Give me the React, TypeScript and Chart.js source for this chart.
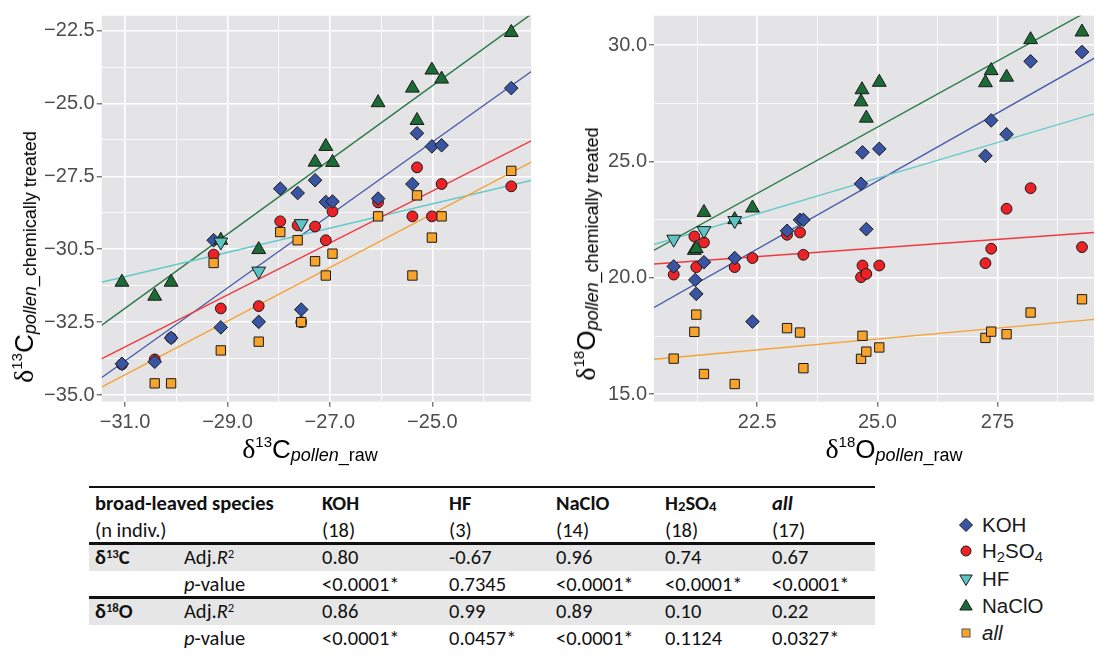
import React, { useEffect, useRef } from 'react';
import { Chart, registerables } from 'chart.js';

Chart.register(...registerables);

// ---------- δ13C panel (x: raw, y: chemically treated) ----------
const carbonKOH: [number, number][] = [
  [-31.06, -33.93], [-30.42, -33.86], [-30.1, -33.04], [-29.27, -29.69], [-29.13, -32.68], [-28.39, -32.49],
  [-27.97, -27.92], [-27.63, -28.07], [-27.56, -32.07], [-27.29, -27.63], [-27.08, -28.38], [-26.95, -28.36],
  [-26.06, -28.26], [-25.39, -27.76], [-25.3, -26.02], [-25.01, -26.47], [-24.82, -26.43], [-23.46, -24.47],
];
const carbonH2SO4: [number, number][] = [
  [-31.06, -33.95], [-30.42, -33.78], [-30.1, -33.04], [-29.27, -30.18], [-29.13, -32.03], [-28.39, -31.95],
  [-27.97, -29.04], [-27.63, -29.18], [-27.56, -32.5], [-27.29, -29.22], [-27.08, -29.69], [-26.95, -28.7],
  [-26.06, -28.39], [-25.39, -28.87], [-25.3, -27.19], [-25.01, -28.87], [-24.82, -27.76], [-23.46, -27.84],
];
const carbonHF: [number, number][] = [[-29.13, -29.75], [-28.39, -30.75], [-27.56, -29.12]];
const carbonNaClO: [number, number][] = [
  [-31.06, -31.13], [-30.42, -31.61], [-30.1, -31.13], [-29.13, -29.69], [-28.39, -30.01], [-27.29, -27.01],
  [-27.08, -26.47], [-26.95, -27.02], [-26.06, -24.97], [-25.39, -24.47], [-25.3, -25.58], [-25.01, -23.85],
  [-24.82, -24.16], [-23.46, -22.56],
];
const carbonAll: [number, number][] = [
  [-30.42, -34.6], [-30.1, -34.6], [-29.27, -30.47], [-29.13, -33.47], [-28.39, -33.17], [-27.97, -29.41],
  [-27.63, -29.69], [-27.56, -32.5], [-27.29, -30.41], [-27.08, -30.9], [-26.95, -30.15], [-26.06, -28.87],
  [-25.39, -30.9], [-25.3, -28.15], [-25.01, -29.6], [-24.82, -28.87], [-23.46, -27.31],
];
// fitted regression lines (values at the panel edges)
const carbonFitKOH: [number, number][] = [[-31.46, -34.41], [-23.07, -23.9]];
const carbonFitH2SO4: [number, number][] = [[-31.46, -33.76], [-23.07, -26.28]];
const carbonFitHF: [number, number][] = [[-31.46, -31.13], [-23.07, -27.64]];
const carbonFitNaClO: [number, number][] = [[-31.46, -32.61], [-23.07, -21.93]];
const carbonFitAll: [number, number][] = [[-31.46, -34.73], [-23.07, -27.01]];

const carbonXMajor = [-31, -29, -27, -25];
const carbonXMinor = [-30, -28, -26, -24];
const carbonXLabels = ['\u221231.0', '\u221229.0', '\u221227.0', '\u221225.0'];
const carbonYMajor = [-35, -32.5, -30, -27.5, -25, -22.5];
const carbonYMinor = [-33.75, -31.25, -28.75, -26.25, -23.75];
const carbonYLabels = ['\u221235.0', '\u221232.5', '\u221230.5', '\u221227.5', '\u221225.0', '\u221222.5'];

// ---------- δ18O panel ----------
const oxygenKOH: [number, number][] = [
  [20.76, 20.49], [21.21, 19.91], [21.23, 19.31], [21.39, 20.67], [22.03, 20.85], [22.4, 18.12],
  [23.12, 22.02], [23.39, 22.49], [23.46, 22.49], [24.66, 24.04], [24.69, 25.39], [24.77, 22.09],
  [25.04, 25.54], [27.25, 25.24], [27.37, 26.76], [27.69, 26.17], [28.19, 29.3], [29.26, 29.7],
];
const oxygenH2SO4: [number, number][] = [
  [20.76, 20.14], [21.19, 21.78], [21.23, 20.46], [21.39, 21.52], [22.03, 20.46], [22.4, 20.85],
  [23.12, 21.85], [23.39, 21.95], [23.46, 20.99], [24.66, 20.03], [24.69, 20.53], [24.77, 20.17],
  [25.04, 20.53], [27.25, 20.63], [27.37, 21.25], [27.69, 22.97], [28.19, 23.85], [29.26, 21.32],
];
const oxygenHF: [number, number][] = [[20.76, 21.66], [21.39, 22.03], [22.03, 22.46]];
const oxygenNaClO: [number, number][] = [
  [21.19, 21.18], [21.23, 21.26], [21.39, 22.81], [22.03, 22.5], [22.4, 23.0], [24.66, 27.56],
  [24.68, 28.08], [24.77, 26.86], [25.04, 28.4], [27.25, 28.38], [27.37, 28.9], [27.69, 28.62],
  [28.19, 30.23], [29.26, 30.56],
];
const oxygenAll: [number, number][] = [
  [20.76, 16.53], [21.19, 17.68], [21.23, 18.42], [21.39, 15.87], [22.03, 15.44], [23.12, 17.84],
  [23.39, 17.65], [23.46, 16.12], [24.66, 16.52], [24.69, 17.51], [24.77, 16.83], [25.04, 17.01],
  [27.25, 17.42], [27.37, 17.69], [27.69, 17.58], [28.19, 18.51], [29.26, 19.08],
];
const oxygenFitKOH: [number, number][] = [[20.33, 18.7], [29.52, 29.44]];
const oxygenFitH2SO4: [number, number][] = [[20.33, 20.59], [29.52, 21.95]];
const oxygenFitHF: [number, number][] = [[20.33, 21.42], [29.52, 27.05]];
const oxygenFitNaClO: [number, number][] = [[20.33, 21.16], [29.52, 31.61]];
const oxygenFitAll: [number, number][] = [[20.33, 16.5], [29.52, 18.22]];

const oxygenXMajor = [22.5, 25, 27.5];
const oxygenXMinor = [21.25, 23.75, 26.25, 28.75];
const oxygenXLabels = ['22.5', '25.0', '275'];
const oxygenYMajor = [15, 20, 25, 30];
const oxygenYMinor = [17.5, 22.5, 27.5];
const oxygenYLabels = ['15.0', '20.0', '25.0', '30.0'];

// ---------- table ----------
const tableTreatments = ['KOH', 'HF', 'NaClO', 'H2SO4', 'all'];
const tableN = ['(18)', '(3)', '(14)', '(18)', '(17)'];
const carbonAdjR2 = ['0.80', '-0.67', '0.96', '0.74', '0.67'];
const carbonP = ['<0.0001*', '0.7345', '<0.0001*', '<0.0001*', '<0.0001*'];
const oxygenAdjR2 = ['0.86', '0.99', '0.89', '0.10', '0.22'];
const oxygenP = ['<0.0001*', '0.0457*', '<0.0001*', '0.1124', '0.0327*'];

// ---------- styles ----------
const SANS = "'Liberation Sans', Arial, Helvetica, sans-serif";
const SERIF = "'Liberation Serif', 'DejaVu Serif', serif";
const TABLE_FONT = "Carlito, Lato, 'Open Sans', sans-serif";
const PANEL_BG = '#E4E4E6';
const TICK_COLOR = '#4D4D4D';
const EDGE = '#1A1A1A';

const COLORS = {
  KOH: { fill: '#3A54A4', line: '#4A5DAD' },
  H2SO4: { fill: '#EC2227', line: '#EE3A3F' },
  HF: { fill: '#5DC3C3', line: '#62C9C8' },
  NaClO: { fill: '#1C6B37', line: '#2C7B4A' },
  all: { fill: '#F8A32B', line: '#F6A234' },
};

type Series = { pts: [number, number][]; style: string; radius: number; rotation?: number; fill: string; order: number };
type Fit = { pts: [number, number][]; color: string };
type PanelSpec = {
  series: Series[];
  fits: Fit[];
  xMin: number; xMax: number; yMin: number; yMax: number;
  xMajor: number[]; xMinor: number[]; xLabels: string[];
  yMajor: number[]; yMinor: number[]; yLabels: string[];
  yAxisWidth: number; xAxisHeight: number; padTop: number; padRight: number;
};

const panelBackground = {
  id: 'panelBackground',
  beforeDraw(chart: any) {
    const { ctx, chartArea } = chart;
    ctx.save();
    ctx.fillStyle = PANEL_BG;
    ctx.fillRect(chartArea.left, chartArea.top, chartArea.right - chartArea.left, chartArea.bottom - chartArea.top);
    ctx.restore();
  },
};

function findIdx(list: number[], v: number) {
  return list.findIndex((m) => Math.abs(m - v) < 1e-6);
}

function axisOptions(major: number[], minor: number[], labels: string[], min: number, max: number, isX: boolean, size: number, padding: number) {
  return {
    type: 'linear',
    min,
    max,
    afterBuildTicks: (axis: any) => {
      axis.ticks = [...major, ...minor].sort((a, b) => a - b).map((v) => ({ value: v }));
    },
    afterFit: (axis: any) => {
      if (isX) axis.height = size;
      else axis.width = size;
    },
    border: { display: false },
    grid: {
      color: '#FFFFFF',
      lineWidth: (c: any) => (c.tick && findIdx(major, c.tick.value) >= 0 ? 1.6 : 0.8),
      drawTicks: true,
      tickLength: 5,
      tickWidth: 1.1,
      tickColor: (c: any) => (c.tick && findIdx(major, c.tick.value) >= 0 ? TICK_COLOR : 'rgba(0,0,0,0)'),
    },
    ticks: {
      autoSkip: false,
      maxRotation: 0,
      minRotation: 0,
      padding,
      color: TICK_COLOR,
      font: { family: SANS, size: 20 },
      callback: (value: any) => {
        const i = findIdx(major, Number(value));
        return i >= 0 ? labels[i] : '';
      },
    },
  };
}

function ScatterPanel({ left, top, width, height, spec }: { left: number; top: number; width: number; height: number; spec: PanelSpec }) {
  const ref = useRef<HTMLCanvasElement>(null);
  useEffect(() => {
    if (!ref.current) return;
    const datasets: any[] = [];
    spec.series.forEach((s) => {
      datasets.push({
        data: s.pts.map(([x, y]) => ({ x, y })),
        pointStyle: s.style,
        pointRadius: s.radius,
        pointRotation: s.rotation || 0,
        pointBackgroundColor: s.fill,
        pointBorderColor: EDGE,
        pointBorderWidth: 1,
        showLine: false,
        order: s.order,
      });
    });
    spec.fits.forEach((f) => {
      datasets.push({
        data: f.pts.map(([x, y]) => ({ x, y })),
        showLine: true,
        borderColor: f.color,
        borderWidth: 1.4,
        pointRadius: 0,
        fill: false,
        order: 20,
      });
    });
    const chart = new Chart(ref.current, {
      type: 'scatter',
      data: { datasets },
      options: {
        responsive: false,
        maintainAspectRatio: false,
        animation: false,
        events: [],
        layout: { padding: { top: spec.padTop, right: spec.padRight, left: 0, bottom: 0 } },
        plugins: { legend: { display: false }, tooltip: { enabled: false }, title: { display: false } },
        scales: {
          x: axisOptions(spec.xMajor, spec.xMinor, spec.xLabels, spec.xMin, spec.xMax, true, spec.xAxisHeight, 4) as any,
          y: axisOptions(spec.yMajor, spec.yMinor, spec.yLabels, spec.yMin, spec.yMax, false, spec.yAxisWidth, 2) as any,
        },
      },
      plugins: [panelBackground],
    } as any);
    return () => chart.destroy();
  }, []);
  return (
    <div style={{ position: 'absolute', left, top, width, height }}>
      <canvas ref={ref} width={width} height={height} style={{ width, height, display: 'block' }} />
    </div>
  );
}

function makeSeries(KOH: [number, number][], H2SO4: [number, number][], HF: [number, number][], NaClO: [number, number][], all: [number, number][]): Series[] {
  return [
    { pts: H2SO4, style: 'circle', radius: 5.4, fill: COLORS.H2SO4.fill, order: 5 },
    { pts: KOH, style: 'rectRot', radius: 6.8, fill: COLORS.KOH.fill, order: 4 },
    { pts: NaClO, style: 'triangle', radius: 8, fill: COLORS.NaClO.fill, order: 3 },
    { pts: all, style: 'rect', radius: 6.6, fill: COLORS.all.fill, order: 2 },
    { pts: HF, style: 'triangle', radius: 8, rotation: 180, fill: COLORS.HF.fill, order: 1 },
  ];
}

function makeFits(KOH: [number, number][], H2SO4: [number, number][], HF: [number, number][], NaClO: [number, number][], all: [number, number][]): Fit[] {
  return [
    { pts: all, color: COLORS.all.line },
    { pts: H2SO4, color: COLORS.H2SO4.line },
    { pts: HF, color: COLORS.HF.line },
    { pts: KOH, color: COLORS.KOH.line },
    { pts: NaClO, color: COLORS.NaClO.line },
  ];
}

const carbonSpec: PanelSpec = {
  series: makeSeries(carbonKOH, carbonH2SO4, carbonHF, carbonNaClO, carbonAll),
  fits: makeFits(carbonFitKOH, carbonFitH2SO4, carbonFitHF, carbonFitNaClO, carbonFitAll),
  xMin: -31.455, xMax: -23.075, yMin: -35.23, yMax: -21.985,
  xMajor: carbonXMajor, xMinor: carbonXMinor, xLabels: carbonXLabels,
  yMajor: carbonYMajor, yMinor: carbonYMinor, yLabels: carbonYLabels,
  yAxisWidth: 101.7, xAxisHeight: 38.3, padTop: 15.7, padRight: 6,
};

const oxygenSpec: PanelSpec = {
  series: makeSeries(oxygenKOH, oxygenH2SO4, oxygenHF, oxygenNaClO, oxygenAll),
  fits: makeFits(oxygenFitKOH, oxygenFitH2SO4, oxygenFitHF, oxygenFitNaClO, oxygenFitAll),
  xMin: 20.35, xMax: 29.51, yMin: 14.68, yMax: 31.26,
  xMajor: oxygenXMajor, xMinor: oxygenXMinor, xLabels: oxygenXLabels,
  yMajor: oxygenYMajor, yMinor: oxygenYMinor, yLabels: oxygenYLabels,
  yAxisWidth: 94, xAxisHeight: 38.3, padTop: 15.7, padRight: 0,
};

function IsoTitle({ iso, el, sub, cx, cy, vertical }: { iso: string; el: string; sub: string; cx: number; cy: number; vertical?: boolean }) {
  return (
    <div
      style={{
        position: 'absolute', left: cx, top: cy,
        transform: `translate(-50%, -50%)${vertical ? ' rotate(-90deg)' : ''}`,
        whiteSpace: 'nowrap', lineHeight: 1, color: '#000', fontFamily: SANS,
      }}
    >
      <span style={{ fontFamily: SERIF, fontSize: 28 }}>δ</span>
      <span style={{ fontSize: 15, position: 'relative', top: -11 }}>{iso}</span>
      <span style={{ fontSize: 26 }}>{el}</span>
      <span style={{ fontSize: 18, position: 'relative', top: 3 }}>
        <i>pollen</i>
        {sub}
      </span>
    </div>
  );
}

function Chem({ name, bold }: { name: string; bold?: boolean }) {
  if (name === 'H2SO4') {
    return (
      <span>
        H<span style={{ fontSize: '0.72em', position: 'relative', top: bold ? 1 : 4 }}>2</span>SO
        <span style={{ fontSize: '0.72em', position: 'relative', top: bold ? 1 : 4 }}>4</span>
      </span>
    );
  }
  if (name === 'all') return <i>{name}</i>;
  return <span>{name}</span>;
}

const TABLE_LEFT = 89;
const TABLE_RIGHT = 875;
const COL1 = 95;
const COL2 = 184;
const VALUE_COLS = [322, 449, 556, 665, 772];
const ROW_H = 27;
const ROW_Y = [503, 530, 557, 584, 611, 638];

function Cell({ x, y, children, bold }: { x: number; y: number; children: React.ReactNode; bold?: boolean }) {
  return (
    <div
      style={{
        position: 'absolute', left: x, top: y - ROW_H / 2, height: ROW_H, lineHeight: `${ROW_H}px`,
        whiteSpace: 'nowrap', fontFamily: TABLE_FONT, fontSize: 20.5, fontWeight: bold ? 700 : 400, color: '#111',
      }}
    >
      {children}
    </div>
  );
}

function StatsTable() {
  const rule = (y: number, h: number) => (
    <div style={{ position: 'absolute', left: TABLE_LEFT, width: TABLE_RIGHT - TABLE_LEFT, top: y - h / 2, height: h, background: '#111' }} />
  );
  const band = (y: number) => (
    <div style={{ position: 'absolute', left: TABLE_LEFT, width: TABLE_RIGHT - TABLE_LEFT, top: y - ROW_H / 2, height: ROW_H, background: '#E6E6E6' }} />
  );
  return (
    <>
      {band(ROW_Y[2])}
      {band(ROW_Y[4])}
      {rule(487, 2.6)}
      {rule(543.5, 2.2)}
      {rule(597.5, 2.2)}
      <Cell x={COL1} y={ROW_Y[0]} bold>broad-leaved species</Cell>
      {tableTreatments.map((t, i) => (
        <Cell key={'h' + i} x={VALUE_COLS[i]} y={ROW_Y[0]} bold>
          <Chem name={t} bold />
        </Cell>
      ))}
      <Cell x={COL1} y={ROW_Y[1]}>(n indiv.)</Cell>
      {tableN.map((t, i) => (
        <Cell key={'n' + i} x={VALUE_COLS[i]} y={ROW_Y[1]}>{t}</Cell>
      ))}
      <Cell x={COL1} y={ROW_Y[2]} bold>
        δ<span style={{ fontSize: '0.62em', position: 'relative', top: -6 }}>13</span>C
      </Cell>
      <Cell x={COL2} y={ROW_Y[2]}>
        Adj.<i>R</i><span style={{ fontSize: '0.62em', position: 'relative', top: -6 }}>2</span>
      </Cell>
      {carbonAdjR2.map((t, i) => (
        <Cell key={'ca' + i} x={VALUE_COLS[i]} y={ROW_Y[2]}>{t}</Cell>
      ))}
      <Cell x={COL2} y={ROW_Y[3]}>
        <i>p</i>-value
      </Cell>
      {carbonP.map((t, i) => (
        <Cell key={'cp' + i} x={VALUE_COLS[i]} y={ROW_Y[3]}>{t}</Cell>
      ))}
      <Cell x={COL1} y={ROW_Y[4]} bold>
        δ<span style={{ fontSize: '0.62em', position: 'relative', top: -6 }}>18</span>O
      </Cell>
      <Cell x={COL2} y={ROW_Y[4]}>
        Adj.<i>R</i><span style={{ fontSize: '0.62em', position: 'relative', top: -6 }}>2</span>
      </Cell>
      {oxygenAdjR2.map((t, i) => (
        <Cell key={'oa' + i} x={VALUE_COLS[i]} y={ROW_Y[4]}>{t}</Cell>
      ))}
      <Cell x={COL2} y={ROW_Y[5]}>
        <i>p</i>-value
      </Cell>
      {oxygenP.map((t, i) => (
        <Cell key={'op' + i} x={VALUE_COLS[i]} y={ROW_Y[5]}>{t}</Cell>
      ))}
    </>
  );
}

const legendEntries = [
  { name: 'KOH', key: 'KOH' as const },
  { name: 'H2SO4', key: 'H2SO4' as const },
  { name: 'HF', key: 'HF' as const },
  { name: 'NaClO', key: 'NaClO' as const },
  { name: 'all', key: 'all' as const },
];
const LEGEND_Y = [525, 551, 578.5, 605.5, 632.5];

function LegendMarker({ k }: { k: keyof typeof COLORS }) {
  const fill = COLORS[k].fill;
  let shape: React.ReactNode = null;
  if (k === 'KOH') shape = <polygon points="9,2.5 15.5,9 9,15.5 2.5,9" fill={fill} stroke={EDGE} strokeWidth={1} />;
  if (k === 'H2SO4') shape = <circle cx={9} cy={9} r={5} fill={fill} stroke={EDGE} strokeWidth={1} />;
  if (k === 'HF') shape = <polygon points="2.8,5 15.2,5 9,15.5" fill={fill} stroke={EDGE} strokeWidth={1} />;
  if (k === 'NaClO') shape = <polygon points="9,2.5 15.2,13 2.8,13" fill={fill} stroke={EDGE} strokeWidth={1} />;
  if (k === 'all') shape = <rect x={5} y={5} width={8} height={8} fill={fill} stroke="#555" strokeWidth={1} />;
  return (
    <svg width={18} height={18} style={{ position: 'absolute', left: -9, top: -9 }}>
      {shape}
    </svg>
  );
}

function Legend() {
  return (
    <>
      {legendEntries.map((e, i) => (
        <React.Fragment key={e.name}>
          <div style={{ position: 'absolute', left: 965.7, top: LEGEND_Y[i] }}>
            <LegendMarker k={e.key} />
          </div>
          <div
            style={{
              position: 'absolute', left: 982, top: LEGEND_Y[i] - 12, height: 24, lineHeight: '24px',
              fontFamily: SANS, fontSize: 20.5, color: '#1A1A1A', whiteSpace: 'nowrap',
            }}
          >
            <Chem name={e.name} />
          </div>
        </React.Fragment>
      ))}
    </>
  );
}

export default function App() {
  return (
    <div style={{ position: 'absolute', left: 0, top: 0, width: 1103, height: 660, background: '#FFFFFF', overflow: 'hidden' }}>
      <ScatterPanel left={0} top={0} width={540} height={440} spec={carbonSpec} />
      <ScatterPanel left={560} top={0} width={543} height={440} spec={oxygenSpec} />
      <IsoTitle iso="13" el="C" sub="_chemically treated" cx={24} cy={257} vertical />
      <IsoTitle iso="13" el="C" sub="_raw" cx={310} cy={449} />
      <IsoTitle iso="18" el="O" sub="_chemically treated" cx={586} cy={254} vertical />
      <IsoTitle iso="18" el="O" sub="_raw" cx={894} cy={449} />
      <StatsTable />
      <Legend />
    </div>
  );
}
